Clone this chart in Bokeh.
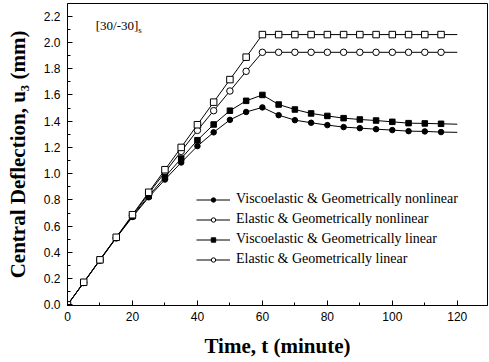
from bokeh.plotting import figure
from bokeh.models import (Range1d, Legend, LegendItem, Label,
                          SingleIntervalTicker, PrintfTickFormatter)
from bokeh.embed import file_html
from bokeh.resources import INLINE

# Time (minutes) and central deflection u3 (mm) for the [30/-30]s laminate
time_min = [0, 5, 10, 15, 20, 25, 30, 35, 40, 45, 50, 55, 60,
            65, 70, 75, 80, 85, 90, 95, 100, 105, 110, 115, 120]

visco_nonlinear = [0.0, 0.17, 0.343, 0.51, 0.67, 0.82, 0.955, 1.085, 1.21, 1.315, 1.41, 1.47, 1.505,
                   1.446, 1.408, 1.388, 1.37, 1.355, 1.347, 1.339, 1.332, 1.324, 1.322, 1.317, 1.315]

elastic_nonlinear = [0.0, 0.17, 0.34, 0.51, 0.68, 0.85, 1.01, 1.17, 1.33, 1.48, 1.63, 1.78, 1.925,
                     1.925, 1.925, 1.925, 1.925, 1.925, 1.925, 1.925, 1.925, 1.925, 1.925, 1.925, 1.925]

visco_linear = [0.0, 0.17, 0.345, 0.515, 0.675, 0.83, 0.975, 1.115, 1.255, 1.375, 1.48, 1.555, 1.60,
                1.527, 1.489, 1.459, 1.44, 1.423, 1.413, 1.405, 1.395, 1.385, 1.383, 1.38, 1.377]

elastic_linear = [0.0, 0.172, 0.343, 0.515, 0.687, 0.858, 1.03, 1.2, 1.373, 1.545, 1.717, 1.888, 2.06,
                  2.06, 2.06, 2.06, 2.06, 2.06, 2.06, 2.06, 2.06, 2.06, 2.06, 2.06, 2.06]

series_labels = ["Viscoelastic & Geometrically nonlinear",
                 "Elastic & Geometrically nonlinear",
                 "Viscoelastic & Geometrically linear",
                 "Elastic & Geometrically linear"]

SERIF = "Liberation Serif"
SANS = "Liberation Sans"

p = figure(width=489, height=362, output_backend="svg", toolbar_location=None,
           x_range=Range1d(0, 129.3), y_range=Range1d(-0.005, 2.297),
           min_border_left=67, min_border_right=2, min_border_top=3, min_border_bottom=57)

p.xgrid.visible = False
p.ygrid.visible = False
p.outline_line_color = "black"
p.outline_line_width = 1
p.background_fill_color = "white"
p.border_fill_color = "white"

p.xaxis.ticker = SingleIntervalTicker(interval=20, num_minor_ticks=2)
p.yaxis.ticker = SingleIntervalTicker(interval=0.2, num_minor_ticks=2)
p.yaxis.formatter = PrintfTickFormatter(format="%.1f")

for ax in (p.xaxis[0], p.yaxis[0]):
    ax.axis_line_color = "black"
    ax.major_tick_line_color = "black"
    ax.minor_tick_line_color = "black"
    ax.major_tick_in = 5
    ax.major_tick_out = 0
    ax.minor_tick_in = 3
    ax.minor_tick_out = 0
    ax.major_label_text_font = SANS
    ax.major_label_text_font_size = "12px"
    ax.major_label_text_color = "black"
    ax.axis_label_text_font = SERIF
    ax.axis_label_text_font_size = "21px"
    ax.axis_label_text_font_style = "bold"
    ax.axis_label_text_color = "black"

p.xaxis.axis_label = "Time, t (minute)"
p.xaxis.major_label_standoff = 6
p.xaxis.axis_label_standoff = 10
p.yaxis.axis_label = "Central Deflection, u\u2083 (mm)"
p.yaxis.major_label_standoff = 7
p.yaxis.axis_label_standoff = 11

n_marked = len(time_min) - 1  # line runs to 120 min, markers stop at 115

styles = [
    (visco_nonlinear, "circle", "black", 5.5),
    (elastic_nonlinear, "circle", "white", 6.5),
    (visco_linear, "square", "black", 5.5),
    (elastic_linear, "square", "white", 6.5),
]
legend_markers = ["circle", "circle", "square", "circle"]

items = []
for (vals, marker, fill, size), label, lmark in zip(styles, series_labels, legend_markers):
    p.line(time_min, vals, line_color="black", line_width=1)
    p.scatter(time_min[:n_marked], vals[:n_marked], marker=marker, size=size,
              fill_color=fill, line_color="black", line_width=1)
    # key glyphs for the legend, placed outside the visible ranges
    kl = p.line([-50, -40], [-5, -5], line_color="black", line_width=1)
    ks = p.scatter([-50], [-5], marker=lmark, size=4.5, fill_color=fill,
                   line_color="black", line_width=1)
    items.append(LegendItem(label=label, renderers=[kl, ks]))

legend = Legend(items=items, location=(129, 36),
                label_text_font=SERIF, label_text_font_size="14px",
                label_text_color="black", label_standoff=6,
                glyph_width=34, glyph_height=11, label_height=20,
                spacing=0, padding=0, margin=0,
                border_line_color=None, background_fill_alpha=0)
p.add_layout(legend)

p.add_layout(Label(x=8.7, y=2.13, text="[30/-30]", text_font=SERIF,
                   text_font_size="13px", text_baseline="middle", text_color="black"))
p.add_layout(Label(x=21.8, y=2.095, text="s", text_font=SERIF,
                   text_font_size="9px", text_baseline="middle", text_color="black"))

open("out.html", "w").write(file_html(p, INLINE))
